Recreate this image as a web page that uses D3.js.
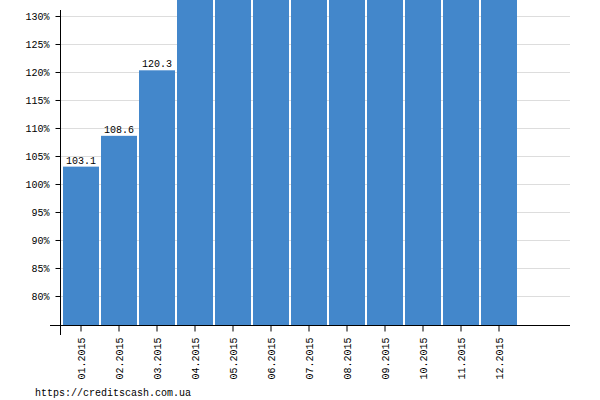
<!DOCTYPE html>
<html lang="en">
<head>
    <meta charset="UTF-8">
    <title>Inflation 2015</title>
    <script src="https://d3js.org/d3.v7.min.js"></script>
    <style>
        body { margin: 0; background: #fff; }
        svg text { font-family: "Liberation Mono", monospace; font-size: 10px; fill: #000; }
        .grid line { stroke: #dddddd; stroke-width: 1; }
        .bar { fill: #4387cb; }
    </style>
</head>
<body>
    <div id="chart"></div>

    <script>
        const width = 600, height = 400;

        // Data
        const months = ["01.2015", "02.2015", "03.2015", "04.2015", "05.2015", "06.2015",
                        "07.2015", "08.2015", "09.2015", "10.2015", "11.2015", "12.2015"];
        const values = [103.1, 108.6, 120.3, 134.5, 137.2, 139.0, 141.3, 143.6, 145.1, 147.4, 149.9, 152.3];
        const yTicks = [80, 85, 90, 95, 100, 105, 110, 115, 120, 125, 130];
        const source = "https://creditscash.com.ua";

        const data = months.map((m, i) => ({ month: m, value: values[i] }));

        // Scales
        const xScale = d3.scaleBand().domain(months).range([61, 519]).padding(2 / 38);
        const yScale = d3.scaleLinear().domain([74.64, 131.07]).range([326, 10]);

        const svg = d3.select("#chart").append("svg")
            .attr("width", width).attr("height", height);

        // Grid lines
        svg.append("g").attr("class", "grid")
            .selectAll("line").data(yTicks).enter()
            .append("line")
            .attr("x1", 60).attr("x2", 570)
            .attr("y1", d => Math.round(yScale(d)) + 0.5).attr("y2", d => Math.round(yScale(d)) + 0.5);

        // Bars
        svg.selectAll(".bar").data(data).enter()
            .append("rect").attr("class", "bar")
            .attr("x", d => xScale(d.month))
            .attr("width", xScale.bandwidth())
            .attr("y", d => yScale(d.value))
            .attr("height", d => 326 - yScale(d.value));

        // Value labels (only those that fall inside the plot, the rest are above the picture)
        svg.selectAll(".value").data(data.filter(d => yScale(d.value) - 3 > 10)).enter()
            .append("text").attr("class", "value")
            .attr("x", d => xScale(d.month) + xScale.bandwidth() / 2)
            .attr("y", d => yScale(d.value) - 3)
            .attr("text-anchor", "middle")
            .text(d => d.value.toFixed(1));

        // Y axis
        const yAxis = d3.axisLeft(yScale).tickValues(yTicks).tickSize(5).tickFormat(d => d + "%");
        const gy = svg.append("g").attr("transform", "translate(60.5,0)").call(yAxis);
        gy.select(".domain").remove();
        gy.attr("font-family", null).attr("font-size", null);
        gy.selectAll("text").attr("x", -11);
        gy.selectAll("line").attr("stroke", "#000");
        svg.append("line")
            .attr("x1", 60.5).attr("x2", 60.5).attr("y1", 10).attr("y2", 335)
            .attr("stroke", "#000");

        // X axis
        const xAxis = d3.axisBottom(xScale).tickSize(6).tickSizeOuter(0);
        const gx = svg.append("g").attr("transform", "translate(0,325.5)").call(xAxis);
        gx.select(".domain").remove();
        gx.attr("font-family", null).attr("font-size", null);
        gx.selectAll("line").attr("stroke", "#000");
        gx.selectAll("text")
            .attr("transform", "rotate(-90)")
            .attr("x", -12).attr("y", 0).attr("dy", "0.35em")
            .attr("text-anchor", "end");
        svg.append("line")
            .attr("x1", 50).attr("x2", 570).attr("y1", 325.5).attr("y2", 325.5)
            .attr("stroke", "#000");

        // Source
        svg.append("text")
            .attr("x", 35).attr("y", 396)
            .text(source);
    </script>
</body>
</html>
